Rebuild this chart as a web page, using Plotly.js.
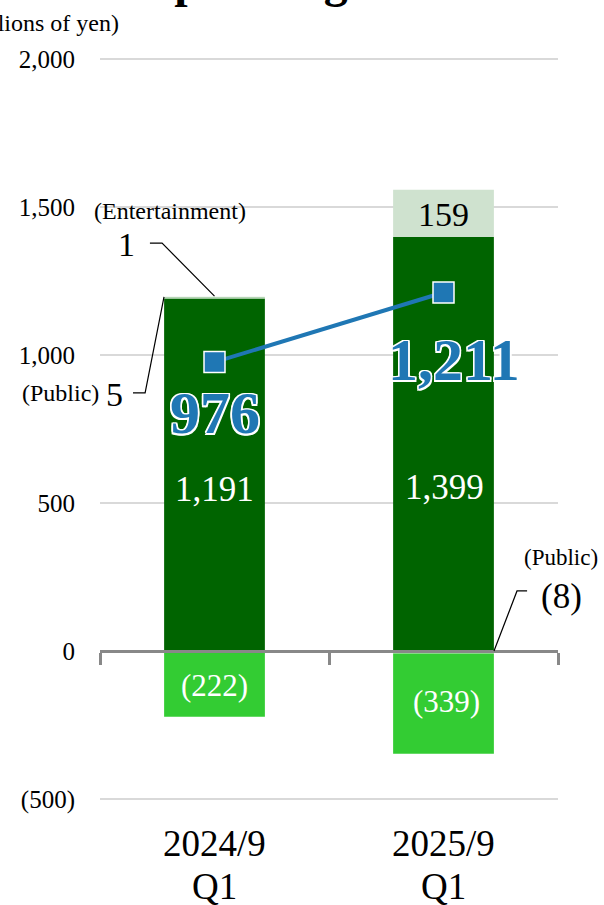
<!DOCTYPE html>
<html>
<head>
<meta charset="utf-8">
<script src="https://cdn.plot.ly/plotly-3.0.1.min.js"></script>
<style>html,body{margin:0;padding:0;background:#fff;}#chart{width:604px;height:905px;}</style>
</head>
<body>
<div id="chart"></div>
<script>
// ---- data ----
const categories = ['2024/9 Q1', '2025/9 Q1'];
const yearLabels = ['2024/9', '2025/9'];
const quarterLabels = ['Q1', 'Q1'];
const mainSegment = [1191, 1399];
const publicSegment = [5, -8];
const entertainmentSegment = [1, 159];
const adjustments = [-222, -339];
const totals = [976, 1211];
const yTickVals = [-500, 0, 500, 1000, 1500, 2000];
const yTickText = ['(500)', '0', '500', '1,000', '1,500', '2,000'];

function fmt(v) {
  const s = Math.abs(v).toLocaleString('en-US');
  return v < 0 ? '(' + s + ')' : s;
}

const SERIF = 'Liberation Serif, Times New Roman, serif';
const DARK = '#006400', LIGHT = '#33cc33', PALE = '#cfe2cf', PUB = '#b5d6b5', BLUE = '#1f77b4';
const BW = 0.44;
const Y_MIN = -510, Y_MAX = 2010;

const traces = [
  {type: 'bar', name: 'Main', x: categories, y: mainSegment, marker: {color: DARK}, width: BW, hoverinfo: 'skip'},
  {type: 'bar', name: 'Public', x: categories, y: publicSegment, marker: {color: PUB}, width: BW, hoverinfo: 'skip'},
  {type: 'bar', name: 'Entertainment', x: categories, y: entertainmentSegment, marker: {color: PALE}, width: BW, hoverinfo: 'skip'},
  {type: 'bar', name: 'Adjustments', x: categories, y: adjustments, marker: {color: LIGHT}, width: BW, hoverinfo: 'skip'},
  {type: 'scatter', mode: 'lines+markers', name: 'Total', x: categories, y: totals,
   line: {color: BLUE, width: 4}, marker: {symbol: 'square', size: 21, color: BLUE, line: {color: '#ffffff', width: 1.5}}, hoverinfo: 'skip'},
  {type: 'scatter', mode: 'markers', x: categories, y: [null, null], xaxis: 'x2', showlegend: false, hoverinfo: 'skip'}
];

const outline = '-1.5px -1.5px 0 #fff, 1.5px -1.5px 0 #fff, -1.5px 1.5px 0 #fff, 1.5px 1.5px 0 #fff, 0 1.5px 0 #fff, 0 -1.5px 0 #fff, 1.5px 0 0 #fff, -1.5px 0 0 #fff';

const ann = [];
function A(o) { ann.push(Object.assign({showarrow: false, xref: 'x', yref: 'y', xanchor: 'center', yanchor: 'middle'}, o)); }

A({x: categories[0], y: 804, text: '<b>' + fmt(totals[0]) + '</b>', font: {family: SERIF, size: 60, color: BLUE, shadow: outline}});
A({x: categories[1], y: 983, xshift: 10, text: '<b>' + fmt(totals[1]) + '</b>', font: {family: SERIF, size: 60, color: BLUE, shadow: outline}});
A({x: categories[0], y: 547, text: fmt(mainSegment[0]), font: {family: SERIF, size: 35, color: '#ffffff'}});
A({x: categories[1], y: 554, xshift: 1, text: fmt(mainSegment[1]), font: {family: SERIF, size: 35, color: '#ffffff'}});
A({x: categories[0], y: -118, text: fmt(adjustments[0]), font: {family: SERIF, size: 31, color: '#ffffff'}});
A({x: categories[1], y: -172, xshift: 3, text: fmt(adjustments[1]), font: {family: SERIF, size: 31, color: '#ffffff'}});
A({x: categories[1], y: 1473, text: fmt(entertainmentSegment[1]), font: {family: SERIF, size: 34, color: '#000000'}});
A({x: -0.194, y: 1486, text: '(Entertainment)', font: {family: SERIF, size: 24, color: '#000'}});
A({x: -0.386, y: 1372, text: fmt(entertainmentSegment[0]), font: {family: SERIF, size: 34, color: '#000'}});
A({x: -0.435, y: 865, text: fmt(publicSegment[0]), font: {family: SERIF, size: 34, color: '#000'}});
A({xref: 'paper', yref: 'paper', x: -0.0873, y: 0.5483, text: '(Public)', font: {family: SERIF, size: 24, color: '#000'}});
A({xref: 'paper', yref: 'paper', x: 1.0066, y: 0.3271, text: '(Public)', font: {family: SERIF, size: 23, color: '#000'}});
A({xref: 'paper', yref: 'paper', x: 1.0066, y: 0.2761, text: fmt(publicSegment[1]), font: {family: SERIF, size: 35, color: '#000'}});
A({xref: 'paper', yref: 'paper', x: 0.046, y: 1.0445, xanchor: 'right', text: '(Millions of yen)', font: {family: SERIF, size: 24, color: '#000'}});
for (let i = 0; i < categories.length; i++) {
  A({x: categories[i], yref: 'paper', y: 0, yshift: -41, text: yearLabels[i], font: {family: SERIF, size: 37, color: '#000'}});
  A({x: categories[i], yref: 'paper', y: 0, yshift: -84, text: quarterLabels[i], font: {family: SERIF, size: 37, color: '#000'}});
}
A({xref: 'paper', x: 0.49, yref: 'paper', y: 1.0483, yshift: 11, yanchor: 'bottom', text: '<b>Operating Income</b>', font: {family: SERIF, size: 48, color: '#000'}});

const leader = {type: 'path', xref: 'x', yref: 'y', line: {color: '#000', width: 1.2}};
const shapes = [
  Object.assign({path: 'M -0.282 1378 L -0.229 1378 L 0 1199'}, leader),
  Object.assign({path: 'M -0.356 872 L -0.303 872 L -0.2205 1196'}, leader),
  Object.assign({path: 'M 1.365 203 L 1.321 203 L 1.2205 0'}, leader)
];

const layout = {
  width: 604, height: 905,
  margin: {l: 100, r: 46, t: 56, b: 103, pad: 0},
  paper_bgcolor: '#ffffff', plot_bgcolor: '#ffffff',
  showlegend: false,
  barmode: 'relative',
  font: {family: SERIF, color: '#000'},
  xaxis: {type: 'category', range: [-0.5, 1.5], showticklabels: false, showline: false, showgrid: false, zeroline: false, ticks: ''},
  xaxis2: {type: 'category', overlaying: 'x', anchor: 'free', position: (0 - Y_MIN) / (Y_MAX - Y_MIN), range: [-0.5, 1.5],
           showline: true, linecolor: '#888888', linewidth: 3, ticks: 'outside', tickson: 'boundaries',
           ticklen: 12, tickwidth: 3, tickcolor: '#888888', showticklabels: false, showgrid: false, zeroline: false},
  yaxis: {range: [Y_MIN, Y_MAX], tickvals: yTickVals, ticktext: yTickText, showgrid: true, gridcolor: '#d9d9d9', gridwidth: 1.5,
          zeroline: false, showline: false, ticks: 'outside', ticklen: 19, tickcolor: 'rgba(0,0,0,0)',
          tickfont: {family: SERIF, size: 25, color: '#000'}},
  annotations: ann,
  shapes: shapes
};

Plotly.newPlot('chart', traces, layout, {staticPlot: true, displayModeBar: false});
</script>
</body>
</html>
